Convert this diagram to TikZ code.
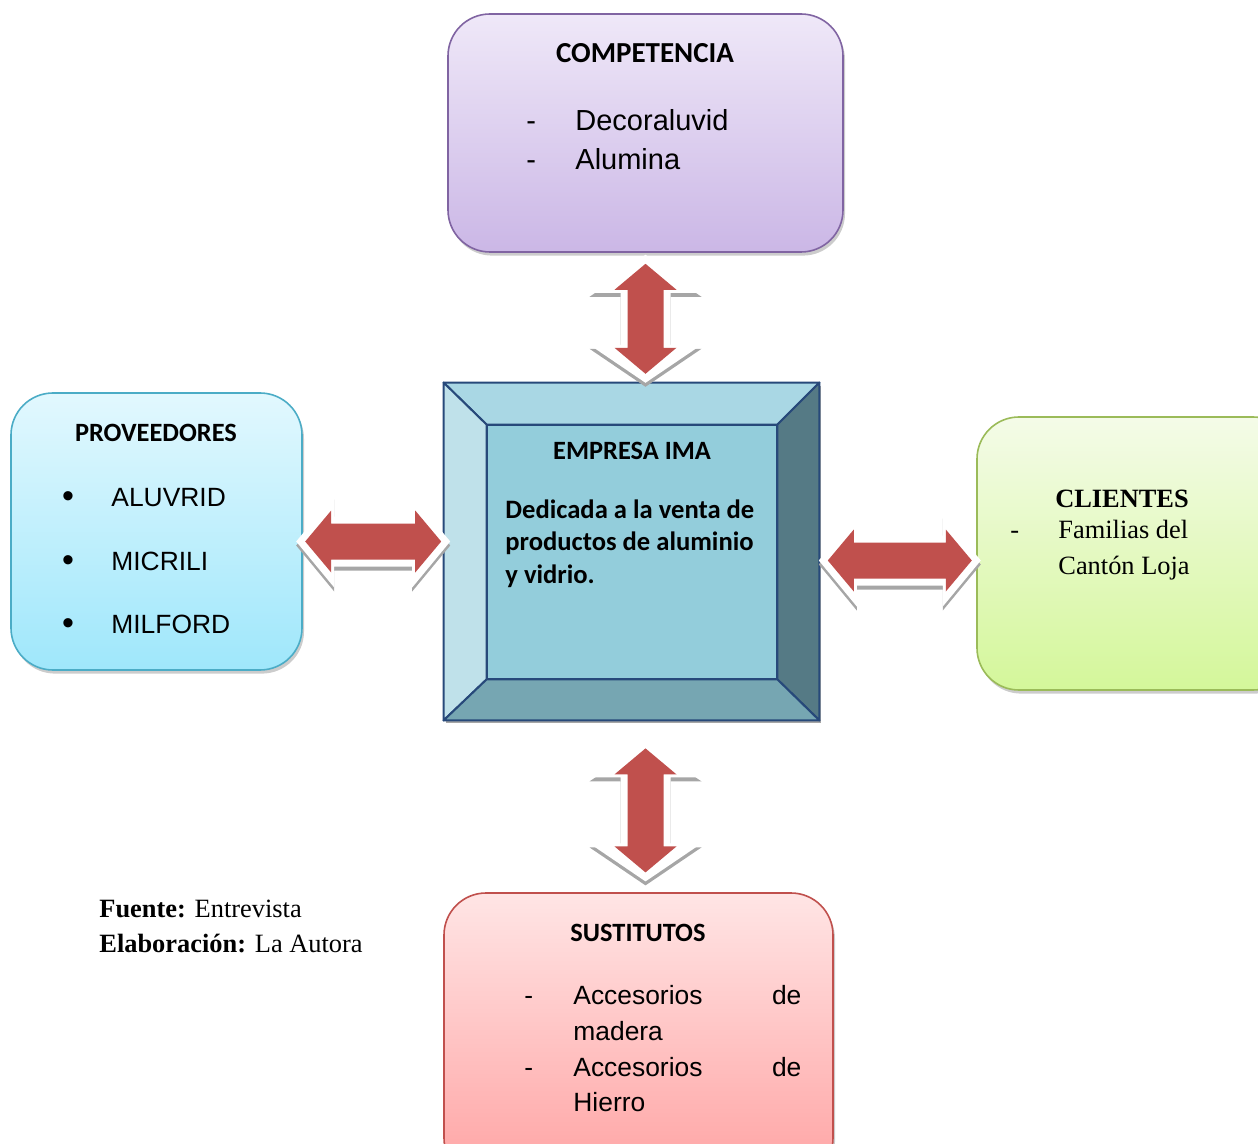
\documentclass[tikz,border=0pt]{standalone}
\usepackage{fontspec}
\setmainfont{Liberation Serif}
\newfontfamily\arialfont{Liberation Sans}
\newfontfamily\calibrifont{Carlito}
\usetikzlibrary{positioning}
\usetikzlibrary{fit}
\usetikzlibrary{calc}
\usetikzlibrary{shadows}

\definecolor{comptop}{HTML}{EFE8F8}
\definecolor{compbot}{HTML}{CBB7E6}
\definecolor{compline}{HTML}{8064A2}
\definecolor{provtop}{HTML}{E2F8FE}
\definecolor{provbot}{HTML}{9FE7FB}
\definecolor{provline}{HTML}{4BACC6}
\definecolor{clitop}{HTML}{F4FBE8}
\definecolor{clibot}{HTML}{D4F79A}
\definecolor{cliline}{HTML}{9BBB59}
\definecolor{susttop}{HTML}{FFE5E5}
\definecolor{sustbot}{HTML}{FFA3A3}
\definecolor{sustline}{HTML}{C0504D}
\definecolor{emptop}{HTML}{A9D7E4}
\definecolor{empleft}{HTML}{BFE1EA}
\definecolor{empright}{HTML}{557A85}
\definecolor{empbot}{HTML}{76A6B2}
\definecolor{empmid}{HTML}{93CDDB}
\definecolor{empline}{HTML}{27497A}
\definecolor{arrowred}{HTML}{C0504D}
\definecolor{arrowgray}{HTML}{A6A6A6}

\tikzset{box/.style={rectangle, rounded corners=21pt, line width=0.8pt, inner sep=0pt,
drop shadow={shadow xshift=1pt, shadow yshift=-1.8pt, fill=black!40}},
compbox/.style={box, draw=compline, top color=comptop, bottom color=compbot},
provbox/.style={box, draw=provline, top color=provtop, bottom color=provbot},
clibox/.style={box, draw=cliline, top color=clitop, bottom color=clibot},
sustbox/.style={box, draw=sustline, top color=susttop, bottom color=sustbot},
face/.style={draw=empline, line width=1pt, line join=round},
titletxt/.style={font=\calibrifont\bfseries\fontsize{13.2}{16}\selectfont, inner sep=0pt, anchor=base},
bodytxt/.style={font=\calibrifont\bfseries\fontsize{13.3}{16}\selectfont, inner sep=0pt, anchor=base west},
itemtxt/.style={font=\arialfont\fontsize{13.2}{16}\selectfont, inner sep=0pt, anchor=base west},
bigitem/.style={font=\arialfont\fontsize{14.5}{17}\selectfont, inner sep=0pt, anchor=base west},
romtxt/.style={font=\fontsize{13.2}{16}\selectfont, inner sep=0pt, anchor=base west}}

% double block arrow: half length, head length, head half width, shaft half width
\newcommand{\arrowshape}[4]{({-(#1)},0) -- ({-(#1)+(#2)},{#3}) -- ({-(#1)+(#2)},{#4})
 -- ({(#1)-(#2)},{#4}) -- ({(#1)-(#2)},{#3}) -- ({#1},0) -- ({(#1)-(#2)},{-(#3)})
 -- ({(#1)-(#2)},{-(#4)}) -- ({-(#1)+(#2)},{-(#4)}) -- ({-(#1)+(#2)},{-(#3)}) -- cycle}
% centre, angle, half length, outer head half width
\newcommand{\blockarrow}[4]{%
 \pgfmathsetmacro\outerlen{#3+9}
 \begin{scope}[shift={(#1)}, yshift=-2pt, rotate=#2]
  \fill[arrowgray] \arrowshape{\outerlen}{38}{#4}{25};
 \end{scope}
 \begin{scope}[shift={(#1)}, rotate=#2]
  \fill[white] \arrowshape{\outerlen}{38}{#4}{25};
  \fill[arrowred] \arrowshape{#3}{26}{31}{18};
 \end{scope}}

\begin{document}
\begin{tikzpicture}[x=0.5pt, y=-0.5pt]
\useasboundingbox (0,0) rectangle (1258,1144);
\clip (0,0) rectangle (1258,1144);

% the four forces
\node[compbox, fit={(448,14) (843,252)}] (comp) {};
\node[provbox, fit={(11,393) (302,670)}] (prov) {};
\node[clibox, fit={(977,417) (1295,690)}] (cli) {};
\node[sustbox, fit={(444,893) (833,1180)}] (sust) {};

% the firm, drawn as a bevel
\node[fit={(444,383) (819,720)}, inner sep=0pt] (emp) {};
\fill[black!35] ([shift={(2,3)}]emp.north west) rectangle ([shift={(2,3)}]emp.south east);
\coordinate (inw) at ($(emp.north west)+(43,42)$);
\coordinate (ine) at ($(emp.north east)+(-42,42)$);
\coordinate (isw) at ($(emp.south west)+(43,-41)$);
\coordinate (ise) at ($(emp.south east)+(-42,-41)$);
\filldraw[face, fill=emptop] (emp.north west) -- (emp.north east) -- (ine) -- (inw) -- cycle;
\filldraw[face, fill=empleft] (emp.north west) -- (inw) -- (isw) -- (emp.south west) -- cycle;
\filldraw[face, fill=empright] (emp.north east) -- (emp.south east) -- (ise) -- (ine) -- cycle;
\filldraw[face, fill=empbot] (emp.south west) -- (isw) -- (ise) -- (emp.south east) -- cycle;
\filldraw[face, fill=empmid] (inw) rectangle (ise);

% arrows between the boxes
\coordinate (atop) at ($(comp.south)+(0,66)$);
\coordinate (abot) at ($(emp.south -| comp.south)+(0,90)$);
\coordinate (aleft) at ($(prov.east)!0.5!(emp.west)$);
\coordinate (aright) at ($(emp.east)!0.5!(cli.west)+(2,8)$);
\blockarrow{atop}{90}{55}{56}
\blockarrow{abot}{90}{62}{56}
\blockarrow{aleft}{0}{68}{46}
\blockarrow{aright}{0}{72}{46}

% texts
\node[titletxt, font=\calibrifont\bfseries\fontsize{14.5}{17}\selectfont] (comptitle) at (645,62.5) {COMPETENCIA};
\foreach \txt/\yy [count=\i] in {Decoraluvid/130.5, Alumina/169.5} {
	\node[bigitem] (compdash\i) at (526,\yy) {-};
	\node[bigitem] (compitem\i) at (575,\yy) {\txt};
}

\node[titletxt] (provtitle) at (156,441.5) {PROVEEDORES};
\foreach \txt/\yy [count=\i] in {ALUVRID/506.5, MICRILI/570.5, MILFORD/633.5} {
	\node[itemtxt, anchor=base, font=\arialfont\fontsize{17}{17}\selectfont] (provdot\i) at (68,\yy+1) {•};
	\node[itemtxt] (provitem\i) at (111,\yy) {\txt};
}

\node[titletxt] (emptitle) at (632,459.5) {EMPRESA IMA};
\foreach \txt/\yy [count=\i] in {Dedicada a la venta de/518.5, productos de aluminio/550.5, y vidrio./583.5} {
	\node[bodytxt] (empline\i) at (505,\yy) {\txt};
}

\node[romtxt, anchor=base, font=\bfseries\fontsize{13.2}{16}\selectfont] (clititle) at (1122,507.7) {CLIENTES};
\node[romtxt] (clidash) at (1010,538.7) {-};
\node[romtxt] (cliitem1) at (1058,538.7) {Familias del};
\node[romtxt] (cliitem2) at (1058,574.7) {Cantón Loja};

\node[titletxt] (susttitle) at (638,941.5) {SUSTITUTOS};
\node[itemtxt] (sustdash1) at (524,1004.5) {-};
\node[itemtxt] (sustitem1) at (573,1004.5) {\hbox to 114pt{Accesorios\hfill de}};
\node[itemtxt] (sustitem2) at (573,1040) {madera};
\node[itemtxt] (sustdash2) at (524,1076.5) {-};
\node[itemtxt] (sustitem3) at (573,1076.5) {\hbox to 114pt{Accesorios\hfill de}};
\node[itemtxt] (sustitem4) at (573,1111.5) {Hierro};

\node[romtxt] (fuente) at (99,917) {\textbf{Fuente:} Entrevista};
\node[romtxt] (elab) at (99,952) {\textbf{Elaboración:} La Autora};
\end{tikzpicture}
\end{document}
